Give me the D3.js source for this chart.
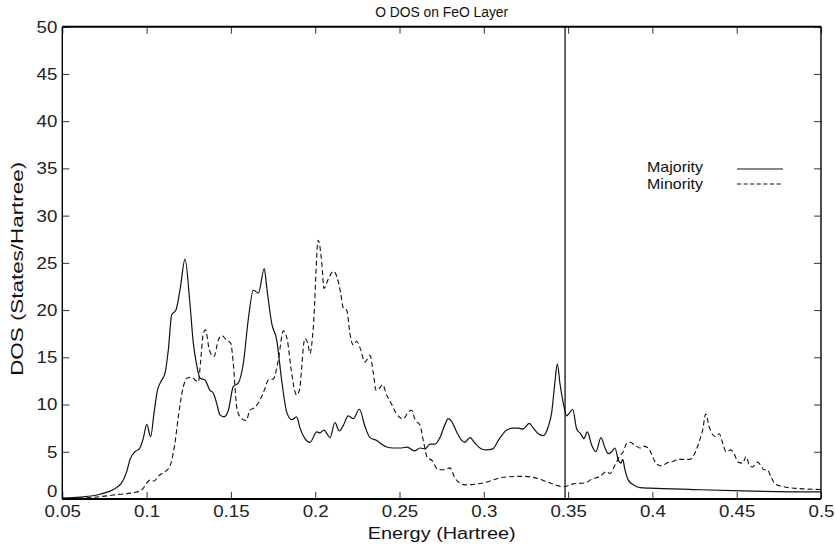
<!DOCTYPE html>
<html>
<head>
<meta charset="utf-8">
<script src="https://cdn.jsdelivr.net/npm/d3@7"></script>
<style>
  html, body { margin: 0; padding: 0; background: #fff; }
  svg { display: block; font-family: "Liberation Sans", Arial, Helvetica, sans-serif; }
</style>
</head>
<body>
<svg id="chart" width="835" height="551"></svg>
<script>
// ---- data ----
const majorityE = [0.0500,0.0605,0.0724,0.0802,0.0852,0.0882,0.0902,0.0931,0.0957,0.0980,0.1001,0.1024,0.1044,0.1063,0.1090,0.1109,0.1129,0.1149,0.1174,0.1198,0.1228,0.1257,0.1277,0.1297,0.1317,0.1346,0.1376,0.1396,0.1416,0.1435,0.1459,0.1485,0.1514,0.1544,0.1574,0.1603,0.1633,0.1663,0.1698,0.1712,0.1742,0.1772,0.1801,0.1831,0.1861,0.1890,0.1910,0.1939,0.1969,0.2009,0.2028,0.2052,0.2088,0.2117,0.2143,0.2167,0.2196,0.2226,0.2262,0.2295,0.2325,0.2365,0.2394,0.2424,0.2463,0.2513,0.2546,0.2588,0.2622,0.2651,0.2681,0.2711,0.2740,0.2770,0.2789,0.2810,0.2839,0.2869,0.2888,0.2918,0.2948,0.2988,0.3017,0.3053,0.3086,0.3136,0.3175,0.3205,0.3231,0.3270,0.3294,0.3323,0.3353,0.3383,0.3403,0.3422,0.3436,0.3452,0.3472,0.3492,0.3507,0.3527,0.3551,0.3575,0.3594,0.3614,0.3640,0.3665,0.3695,0.3719,0.3738,0.3759,0.3778,0.3798,0.3814,0.3824,0.3837,0.3857,0.3887,0.3926,0.3986,0.4243,0.4539,0.4994,0.5000];
const majorityDOS = [0.1,0.2,0.5,1.0,1.7,2.9,4.2,5.0,5.3,6.4,7.9,6.6,9.1,11.4,12.6,13.3,15.8,19.5,20.0,22.1,25.4,20.7,16.5,14.2,12.8,12.6,11.5,11.2,10.1,8.9,8.7,9.4,11.9,12.3,14.4,19.0,22.1,21.8,24.4,22.5,18.6,16.8,12.6,9.2,8.4,8.7,7.5,6.4,6.0,7.1,7.0,7.3,6.5,8.1,7.2,7.8,8.8,8.5,9.5,7.7,6.5,6.2,5.8,5.5,5.4,5.4,5.5,5.1,5.4,5.3,5.8,5.8,6.5,7.9,8.5,8.2,7.1,6.2,6.0,6.5,5.9,5.3,5.2,5.3,6.2,7.3,7.5,7.5,7.4,8.0,7.5,6.9,6.7,7.7,9.2,12.4,14.3,12.2,10.1,8.8,9.1,9.5,7.4,6.9,6.4,7.1,5.7,5.0,6.5,5.4,4.8,5.0,5.4,4.1,3.8,4.2,3.1,2.0,1.5,1.2,1.15,1.0,0.85,0.75,0.75];

const minorityE = [0.0500,0.0605,0.0724,0.0842,0.0921,0.0971,0.1001,0.1020,0.1044,0.1069,0.1099,0.1129,0.1149,0.1168,0.1188,0.1218,0.1241,0.1267,0.1287,0.1307,0.1321,0.1336,0.1349,0.1372,0.1388,0.1400,0.1425,0.1445,0.1475,0.1499,0.1514,0.1534,0.1554,0.1590,0.1613,0.1643,0.1673,0.1702,0.1722,0.1751,0.1781,0.1811,0.1835,0.1855,0.1890,0.1906,0.1939,0.1956,0.1969,0.1989,0.2018,0.2039,0.2052,0.2078,0.2107,0.2131,0.2151,0.2167,0.2187,0.2206,0.2226,0.2246,0.2266,0.2295,0.2325,0.2345,0.2361,0.2380,0.2400,0.2424,0.2454,0.2479,0.2523,0.2552,0.2572,0.2592,0.2622,0.2641,0.2665,0.2691,0.2730,0.2770,0.2800,0.2829,0.2888,0.2997,0.3116,0.3234,0.3314,0.3393,0.3472,0.3531,0.3600,0.3640,0.3689,0.3729,0.3748,0.3778,0.3808,0.3827,0.3848,0.3867,0.3897,0.3926,0.3946,0.3976,0.3996,0.4025,0.4055,0.4085,0.4124,0.4154,0.4193,0.4223,0.4253,0.4278,0.4298,0.4316,0.4336,0.4358,0.4377,0.4397,0.4417,0.4437,0.4464,0.4484,0.4509,0.4536,0.4555,0.4575,0.4595,0.4622,0.4642,0.4662,0.4681,0.4702,0.4727,0.4776,0.4875,0.5000];
const minorityDOS = [0.0,0.07,0.25,0.5,0.67,0.95,1.7,2.0,1.9,2.4,2.8,3.2,4.1,5.9,8.7,11.9,12.8,12.9,12.6,12.4,14.7,17.5,17.9,15.8,15.2,15.1,16.8,17.3,16.8,16.5,14.4,9.8,8.7,8.3,9.4,9.7,10.5,11.7,12.6,12.7,14.7,17.8,16.8,14.0,11.0,11.5,17.0,16.5,15.4,18.2,27.4,25.0,22.3,23.3,24.1,23.4,21.8,20.2,20.0,17.5,16.3,16.7,16.0,14.5,15.2,13.3,11.5,11.7,12.1,11.0,10.0,9.1,8.5,9.2,9.4,8.4,7.8,6.2,4.4,4.1,3.1,3.1,3.3,2.2,1.5,1.7,2.3,2.4,2.2,1.7,1.3,1.6,1.7,2.1,2.4,2.9,2.7,3.6,4.6,5.0,5.9,6.0,5.7,5.4,5.6,5.4,4.7,3.7,3.5,3.8,4.0,4.2,4.2,4.2,4.9,6.1,7.3,9.0,7.7,6.8,6.6,6.9,5.9,5.0,5.2,4.8,3.9,3.8,4.5,3.6,3.4,3.9,3.6,3.1,3.1,2.4,1.6,1.3,1.1,1.0];

const fermiEnergy = 0.3482;
const xTicks = [0.05,0.1,0.15,0.2,0.25,0.3,0.35,0.4,0.45,0.5];
const yTicks = [0,5,10,15,20,25,30,35,40,45,50];
const seriesNames = ["Majority", "Minority"];
const titleText = "O DOS on FeO Layer";
const xLabel = "Energy (Hartree)";
const yLabel = "DOS (States/Hartree)";

// ---- layout ----
const svg = d3.select("#chart");
const L = 62.3, R = 821, T = 26.7, B = 499;
const x = d3.scaleLinear().domain([0.05, 0.5]).range([L, R]);
const y = d3.scaleLinear().domain([0, 50]).range([B, T]);
const fmt = d => String(+d.toFixed(2));
const FONT = '"Liberation Sans", Arial, Helvetica, sans-serif';

svg.append("defs").append("clipPath").attr("id", "clip")
  .append("rect").attr("x", L).attr("y", T).attr("width", R - L).attr("height", B - T);

const tickLen = 7;
const gx = svg.append("g").attr("transform", `translate(0,${B})`)
  .call(d3.axisBottom(x).tickValues(xTicks).tickFormat(fmt).tickSizeInner(-tickLen).tickSizeOuter(0).tickPadding(6));
const gxt = svg.append("g").attr("transform", `translate(0,${T})`)
  .call(d3.axisTop(x).tickValues(xTicks).tickFormat("").tickSizeInner(-tickLen).tickSizeOuter(0));
const gy = svg.append("g").attr("transform", `translate(${L},0)`)
  .call(d3.axisLeft(y).tickValues(yTicks).tickFormat(d3.format("d")).tickSizeInner(-tickLen).tickSizeOuter(0).tickPadding(5));
const gyr = svg.append("g").attr("transform", `translate(${R},0)`)
  .call(d3.axisRight(y).tickValues(yTicks).tickFormat("").tickSizeInner(-tickLen).tickSizeOuter(0));

[gx, gxt, gy, gyr].forEach(g => {
  g.select(".domain").remove();
  g.selectAll(".tick line").attr("stroke", "#333").attr("stroke-width", 1);
  g.selectAll("text").attr("fill", "#222").style("font-size", "17px").style("font-family", FONT);
});
// slightly wider glyphs, as in the reference
gx.selectAll(".tick text").attr("transform", "scale(1.1,1)");
gy.selectAll(".tick text").attr("x", -5 / 1.1).attr("transform", "scale(1.1,1)");
gy.selectAll(".tick").filter(d => d === 0).select("text").attr("dy", "-0.12em");

// curves
const lineGen = (E, D) => d3.line()
  .x((d, i) => x(E[i])).y((d, i) => y(D[i]))
  .curve(d3.curveMonotoneX)(E);

const plot = svg.append("g").attr("clip-path", "url(#clip)");
plot.append("path").attr("d", lineGen(minorityE, minorityDOS))
  .attr("fill", "none").attr("stroke", "#111").attr("stroke-width", 1.1).attr("stroke-dasharray", "5,3");
plot.append("path").attr("d", lineGen(majorityE, majorityDOS))
  .attr("fill", "none").attr("stroke", "#111").attr("stroke-width", 1.2);

// Fermi level line
svg.append("line").attr("x1", x(fermiEnergy)).attr("x2", x(fermiEnergy))
  .attr("y1", y(0)).attr("y2", y(50)).attr("stroke", "#000").attr("stroke-width", 1.2);

// frame
svg.append("line").attr("x1", L).attr("x2", R).attr("y1", B).attr("y2", B).attr("stroke", "#000").attr("stroke-width", 2.2);
svg.append("line").attr("x1", L).attr("x2", R).attr("y1", T).attr("y2", T).attr("stroke", "#000").attr("stroke-width", 2);
svg.append("line").attr("x1", L).attr("x2", L).attr("y1", T).attr("y2", B).attr("stroke", "#000").attr("stroke-width", 1.4);
svg.append("line").attr("x1", R).attr("x2", R).attr("y1", T).attr("y2", B).attr("stroke", "#000").attr("stroke-width", 1.4);

// title & axis labels
svg.append("text").attr("x", (L + R) / 2).attr("y", 17).attr("text-anchor", "middle")
  .style("font-size", "14px").attr("fill", "#111")
  .attr("textLength", 133).attr("lengthAdjust", "spacingAndGlyphs").text(titleText);
svg.append("text").attr("x", (L + R) / 2).attr("y", 539).attr("text-anchor", "middle")
  .style("font-size", "16px").attr("fill", "#111")
  .attr("textLength", 148).attr("lengthAdjust", "spacingAndGlyphs").text(xLabel);
svg.append("text").attr("transform", `translate(23,${(T + B) / 2 + 6}) rotate(-90)`).attr("text-anchor", "middle")
  .style("font-size", "16px").attr("fill", "#111")
  .attr("textLength", 214).attr("lengthAdjust", "spacingAndGlyphs").text(yLabel);

// legend
const legend = svg.append("g");
const legY = [171.5, 188.5];
seriesNames.forEach((name, i) => {
  legend.append("text").attr("x", 647).attr("y", legY[i]).style("font-size", "15px").attr("fill", "#111")
    .attr("textLength", 56).attr("lengthAdjust", "spacingAndGlyphs").text(name);
  legend.append("line").attr("x1", 737).attr("x2", 783).attr("y1", legY[i] - 2.5 - i * 2).attr("y2", legY[i] - 2.5 - i * 2)
    .attr("stroke", "#111").attr("stroke-width", 1.2)
    .attr("stroke-dasharray", i === 1 ? "4,2.6" : null);
});
</script>
</body>
</html>
